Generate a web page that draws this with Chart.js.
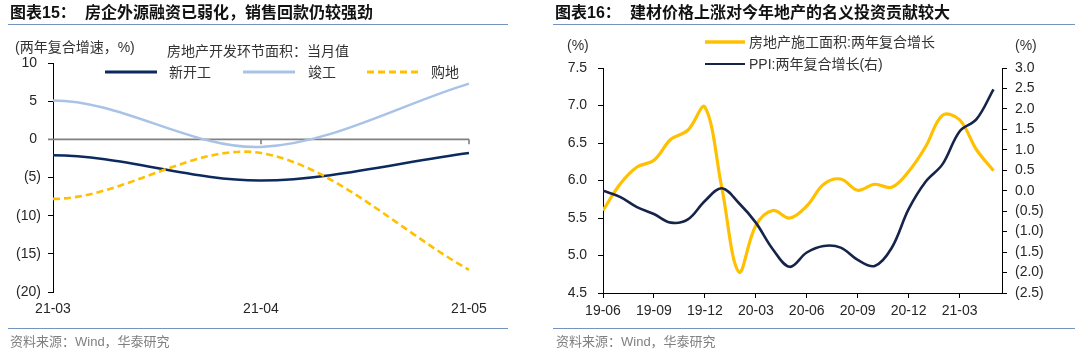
<!DOCTYPE html>
<html>
<head>
<meta charset="utf-8">
<script src="https://cdn.jsdelivr.net/npm/chart.js@4.4.0/dist/chart.umd.min.js"></script>
<style>
    body { margin: 0; background: #fff; width: 1080px; height: 350px; overflow: hidden; position: relative;
           font-family: 'Liberation Sans', 'Noto Sans CJK SC', sans-serif; }
    .abs { position: absolute; white-space: nowrap; line-height: 1; z-index: 2; }
    canvas { position: absolute; top: 0; }
    .title { font-weight: bold; font-size: 16px; color: #111; top: 5px; }
    .rule { position: absolute; height: 0; border-top: 1.5px solid #7393c0; z-index: 2; }
    .src { font-size: 13px; color: #808080; top: 335px; }
    .txt { font-size: 14px; color: #333; }
    svg { position: absolute; z-index: 2; overflow: visible; }
</style>
</head>
<body>
    <!-- left panel -->
    <div class="abs title" style="left:10px">图表15：</div>
    <div class="abs title" style="left:85px">房企外源融资已弱化，销售回款仍较强劲</div>
    <div class="rule" style="left:8px; width:500px; top:24px"></div>
    <div class="abs txt" style="left:15px; top:40px">(两年复合增速，%)</div>
    <div class="abs txt" style="left:167px; top:44px">房地产开发环节面积：当月值</div>
    <div id="legendLeft"></div>
    <canvas id="leftChart" width="540" height="350" style="left:0"></canvas>
    <div class="rule" style="left:8px; width:500px; top:328px"></div>
    <div class="abs src" style="left:10px">资料来源：Wind，华泰研究</div>

    <!-- right panel -->
    <div class="abs title" style="left:555px">图表16：</div>
    <div class="abs title" style="left:630px">建材价格上涨对今年地产的名义投资贡献较大</div>
    <div class="rule" style="left:553px; width:522px; top:24px"></div>
    <div class="abs txt" style="left:567px; top:38px">(%)</div>
    <div class="abs txt" style="left:1015px; top:38px">(%)</div>
    <div id="legendRight"></div>
    <canvas id="rightChart" width="540" height="350" style="left:540px"></canvas>
    <div class="rule" style="left:553px; width:522px; top:328px"></div>
    <div class="abs src" style="left:556px">资料来源：Wind，华泰研究</div>

<script>
// ---- left chart data: 房地产开发环节面积（两年复合增速，%）
const leftMonths = ['21-03', '21-04', '21-05'];
const leftNames = ['新开工', '竣工', '购地'];
const newStarts = [-2.1, -5.4, -1.8];
const completions = [5.1, -1.0, 7.3];
const landPurchase = [-7.8, -1.8, -17.1];
const leftYTicks = [10, 5, 0, -5, -10, -15, -20];

// ---- right chart data
const months = ['19-06', '19-07', '19-08', '19-09', '19-10', '19-11', '19-12', '20-01',
                '20-02', '20-03', '20-04', '20-05', '20-06', '20-07', '20-08', '20-09',
                '20-10', '20-11', '20-12', '21-01', '21-02', '21-03', '21-04', '21-05'];
const rightNames = ['房地产施工面积:两年复合增长', 'PPI:两年复合增长(右)'];
const floorSpace = [5.6, 5.95, 6.18, 6.27, 6.55, 6.67, 6.98, 5.9,
                    4.78, 5.4, 5.6, 5.5, 5.66, 5.95, 6.02, 5.87,
                    5.95, 5.91, 6.12, 6.45, 6.87, 6.81, 6.41, 6.13];
const ppi = [0.0, -0.15, -0.4, -0.57, -0.78, -0.7, -0.25, 0.06,
             -0.3, -0.78, -1.43, -1.86, -1.51, -1.35, -1.39, -1.69,
             -1.84, -1.4, -0.45, 0.22, 0.65, 1.45, 1.75, 2.48];
const rightXTicks = ['19-06', '19-09', '19-12', '20-03', '20-06', '20-09', '20-12', '21-03'];
const rightYTicks = [4.5, 5.0, 5.5, 6.0, 6.5, 7.0, 7.5];
const rightY1Ticks = [-2.5, -2.0, -1.5, -1.0, -0.5, 0, 0.5, 1.0, 1.5, 2.0, 2.5, 3.0];

const DARK = '#0d2a5f', LIGHT = '#a9c3e6', GOLD = '#ffc000', NAVY = '#16244a';

Chart.defaults.font.family = "'Liberation Sans', Arial, sans-serif";
Chart.defaults.font.size = 14;
Chart.defaults.color = '#262626';

// negative numbers shown in brackets, positives keep a trailing space like excel
function bracket(v, digits) {
    const s = Math.abs(v).toFixed(digits);
    return v < 0 ? '(' + s + ')' : s + ' ';
}

// legends as html, built from the series names
function legendRow(x, y, color, dash, width, label, parent) {
    const len = x[1] - x[0];
    const svg = '<svg style="left:' + x[0] + 'px; top:' + y + 'px" width="' + len + '" height="1">' +
        '<line x1="0" y1="0" x2="' + len + '" y2="0" stroke="' + color + '" stroke-width="' + width + '"' +
        (dash ? ' stroke-dasharray="' + dash + '"' : '') + '/></svg>';
    const txt = '<div class="abs txt" style="left:' + x[2] + 'px; top:' + (y - 7) + 'px">' + label + '</div>';
    parent.insertAdjacentHTML('beforeend', svg + txt);
}
const legL = document.getElementById('legendLeft');
legendRow([105, 157, 169], 72, DARK, null, 3, leftNames[0], legL);
legendRow([243, 295, 308], 72, LIGHT, null, 3, leftNames[1], legL);
legendRow([367, 418, 431], 72, GOLD, '7 4', 3, leftNames[2], legL);
const legR = document.getElementById('legendRight');
legendRow([705, 745, 749], 41.5, GOLD, null, 3.5, rightNames[0], legR);
legendRow([705, 745, 749], 64, NAVY, null, 2.2, rightNames[1], legR);

// x axis line sits on zero in the left chart
const zeroLine = {
    id: 'zeroLine',
    beforeDatasetsDraw(chart) {
        const { ctx, chartArea, scales } = chart;
        const y0 = scales.y.getPixelForValue(0);
        ctx.save();
        ctx.strokeStyle = '#808080';
        ctx.lineWidth = 1.6;
        ctx.beginPath();
        ctx.moveTo(chartArea.left - 5, y0);
        ctx.lineTo(chartArea.right, y0);
        for (let i = 1; i < leftMonths.length; i++) {
            const x = scales.x.getPixelForValue(i);
            ctx.moveTo(x, y0);
            ctx.lineTo(x, y0 + 5);
        }
        ctx.stroke();
        ctx.restore();
    }
};

// excel-style smoothing leaves the first point almost flat
const flatStart = {
    id: 'flatStart',
    afterDatasetsUpdate(chart) {
        chart.getSortedVisibleDatasetMetas().forEach(meta => {
            meta.dataset.updateControlPoints(chart.chartArea, 'x');
            const p0 = meta.data[0], p1 = meta.data[1];
            p0.cp2x = p0.x + (p1.x - p0.x) / 3;
            p0.cp2y = p0.y;
        });
    }
};

new Chart(document.getElementById('leftChart'), {
    type: 'line',
    data: {
        labels: leftMonths,
        datasets: [
            { label: leftNames[2], data: landPurchase, borderColor: GOLD, borderWidth: 2.6, borderDash: [7, 4] },
            { label: leftNames[0], data: newStarts, borderColor: DARK, borderWidth: 2.5 },
            { label: leftNames[1], data: completions, borderColor: LIGHT, borderWidth: 2.5 }
        ]
    },
    options: {
        responsive: false,
        animation: false,
        events: [],
        elements: { point: { radius: 0 }, line: { tension: 0.33, fill: false } },
        layout: { padding: { left: 8, top: 63, right: 71, bottom: 28 } },
        plugins: { legend: { display: false }, tooltip: { enabled: false } },
        scales: {
            x: {
                type: 'category',
                offset: false,
                border: { display: false },
                grid: { display: false, drawTicks: false },
                ticks: { padding: 9, maxRotation: 0, autoSkip: false },
                afterFit: s => { s.height = 30; }
            },
            y: {
                min: -20,
                max: 10,
                afterBuildTicks: s => { s.ticks = leftYTicks.map(v => ({ value: v })); },
                afterFit: s => { s.width = 45; },
                border: { color: '#000', width: 1 },
                grid: { drawOnChartArea: false, tickLength: 5, color: '#000' },
                ticks: { padding: 7, callback: v => bracket(v, 0) }
            }
        }
    },
    plugins: [zeroLine, flatStart]
});

new Chart(document.getElementById('rightChart'), {
    type: 'line',
    data: {
        datasets: [
            { label: rightNames[1], data: ppi.map((v, i) => ({ x: i, y: v })), yAxisID: 'y1',
              borderColor: NAVY, borderWidth: 2.6 },
            { label: rightNames[0], data: floorSpace.map((v, i) => ({ x: i, y: v })), yAxisID: 'y',
              borderColor: GOLD, borderWidth: 3.2 }
        ]
    },
    options: {
        responsive: false,
        animation: false,
        events: [],
        elements: { point: { radius: 0 }, line: { tension: 0.36, fill: false } },
        layout: { padding: { left: 18, top: 68, right: 33, bottom: 27 } },
        plugins: { legend: { display: false }, tooltip: { enabled: false } },
        scales: {
            x: {
                type: 'linear',
                min: 0,
                max: 23.5,
                afterBuildTicks: s => { s.ticks = rightXTicks.map(l => ({ value: months.indexOf(l) })); },
                afterFit: s => { s.height = 30; },
                border: { color: '#000', width: 1 },
                grid: { drawOnChartArea: false, tickLength: 5, color: '#000' },
                ticks: { padding: 5, maxRotation: 0, autoSkip: false, callback: v => months[v] }
            },
            y: {
                position: 'left',
                min: 4.5,
                max: 7.5,
                afterBuildTicks: s => { s.ticks = rightYTicks.map(v => ({ value: v })); },
                afterFit: s => { s.width = 45; },
                border: { color: '#000', width: 1 },
                grid: { drawOnChartArea: false, tickLength: 5, color: '#000' },
                ticks: { padding: 7, callback: v => bracket(v, 1) }
            },
            y1: {
                position: 'right',
                min: -2.5,
                max: 3.0,
                afterBuildTicks: s => { s.ticks = rightY1Ticks.map(v => ({ value: v })); },
                afterFit: s => { s.width = 45; },
                border: { color: '#000', width: 1 },
                grid: { drawOnChartArea: false, tickLength: 5, color: '#000' },
                ticks: { padding: 8, callback: v => v < 0 ? '(' + Math.abs(v).toFixed(1) + ')' : v.toFixed(1) }
            }
        }
    }
});
</script>
</body>
</html>
